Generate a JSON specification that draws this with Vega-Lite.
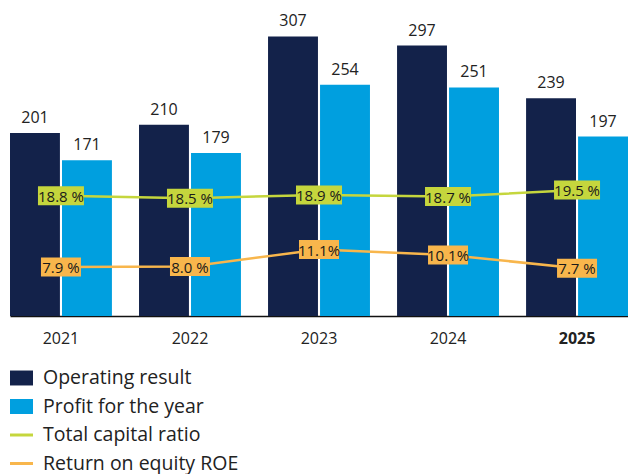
{
  "$schema": "https://vega.github.io/schema/vega-lite/v6.json",
  "width": 618,
  "height": 316,
  "autosize": {"type": "none"},
  "padding": {"left": 10, "top": 0, "right": 0, "bottom": 158},
  "background": "white",
  "config": {
    "view": {"stroke": null},
    "font": "Open Sans",
    "text": {"font": "Open Sans"}
  },
  "datasets": {
    "bars": [
      {"year": "2021", "series": "Operating result", "value": 201},
      {"year": "2021", "series": "Profit for the year", "value": 171},
      {"year": "2022", "series": "Operating result", "value": 210},
      {"year": "2022", "series": "Profit for the year", "value": 179},
      {"year": "2023", "series": "Operating result", "value": 307},
      {"year": "2023", "series": "Profit for the year", "value": 254},
      {"year": "2024", "series": "Operating result", "value": 297},
      {"year": "2024", "series": "Profit for the year", "value": 251},
      {"year": "2025", "series": "Operating result", "value": 239},
      {"year": "2025", "series": "Profit for the year", "value": 197}
    ],
    "ratios": [
      {"year": "2021", "cap": 18.8, "capLabel": "18.8 %", "roe": 7.9, "roeLabel": "7.9 %"},
      {"year": "2022", "cap": 18.5, "capLabel": "18.5 %", "roe": 8.0, "roeLabel": "8.0 %"},
      {"year": "2023", "cap": 18.9, "capLabel": "18.9 %", "roe": 11.1, "roeLabel": "11.1%"},
      {"year": "2024", "cap": 18.7, "capLabel": "18.7 %", "roe": 10.1, "roeLabel": "10.1%"},
      {"year": "2025", "cap": 19.5, "capLabel": "19.5 %", "roe": 7.7, "roeLabel": "7.7 %"}
    ]
  },
  "encoding": {
    "x": {
      "field": "year",
      "type": "nominal",
      "title": null,
      "scale": {"paddingInner": 0.21, "paddingOuter": 0},
      "axis": {
        "orient": "bottom",
        "ticks": false,
        "domainColor": "#111111",
        "domainWidth": 1.5,
        "labelAngle": 0,
        "labelFont": "Open Sans",
        "labelFontSize": 16,
        "labelColor": "#222222",
        "labelPadding": 14,
        "labelFontWeight": {"condition": {"test": "datum.value == '2025'", "value": "bold"}, "value": "normal"}
      }
    }
  },
  "layer": [
    {
      "data": {"name": "bars"},
      "encoding": {
        "xOffset": {
          "field": "series",
          "type": "nominal",
          "scale": {"domain": ["Operating result", "Profit for the year"], "paddingInner": 0.04, "paddingOuter": 0}
        },
        "y": {
          "field": "value",
          "type": "quantitative",
          "scale": {"domain": [0, 347], "nice": false, "zero": true},
          "axis": null
        }
      },
      "layer": [
        {
          "mark": {"type": "bar"},
          "encoding": {
            "color": {
              "field": "series",
              "type": "nominal",
              "scale": {
                "domain": ["Operating result", "Profit for the year", "Total capital ratio", "Return on equity ROE"],
                "range": ["#13224a", "#009fdf", "#c5d63d", "#f8b64c"]
              },
              "legend": {
                "title": null,
                "orient": "none",
                "legendX": 0,
                "legendY": 366.5,
                "direction": "vertical",
                "padding": 0,
                "symbolSize": 529,
                "rowPadding": 7.5,
                "labelOffset": 10,
                "labelFont": "Open Sans",
                "labelFontSize": 19.5,
                "labelColor": "#222222",
                "labelLimit": 400,
                "encode": {
                  "symbols": {
                    "update": {
                      "shape": {"signal": "indexof(['Total capital ratio','Return on equity ROE'], datum.value) >= 0 ? 'M-1,-0.13H1V0.13H-1Z' : 'M-1,-0.65H1V0.65H-1Z'"},
                      "fill": {"signal": "scale('color', datum.value)"},
                      "fillOpacity": {"value": 1},
                      "opacity": {"value": 1},
                      "strokeWidth": {"value": 0}
                    }
                  }
                }
              }
            }
          }
        },
        {
          "mark": {"type": "text", "baseline": "alphabetic", "align": "center", "dy": -10, "fontSize": 16, "color": "#222222", "font": "Open Sans"},
          "encoding": {"text": {"field": "value", "type": "quantitative"}}
        }
      ]
    },
    {
      "data": {"name": "ratios"},
      "encoding": {
        "y": {
          "field": "cap",
          "type": "quantitative",
          "scale": {"domain": [4.3, 42.4], "nice": false, "zero": false},
          "axis": null
        }
      },
      "layer": [
        {
          "mark": {"type": "line", "strokeWidth": 2.5},
          "encoding": {"color": {"datum": "Total capital ratio"}}
        },
        {
          "mark": {"type": "point", "filled": true, "opacity": 1, "size": 400, "shape": "M-2.3,-0.95H2.3V0.95H-2.3Z", "strokeWidth": 0},
          "encoding": {"color": {"datum": "Total capital ratio"}}
        },
        {
          "mark": {"type": "text", "baseline": "middle", "align": "center", "dy": 1, "fontSize": 15, "color": "#1a1a1a", "font": "Open Sans"},
          "encoding": {"text": {"field": "capLabel", "type": "nominal"}}
        }
      ]
    },
    {
      "data": {"name": "ratios"},
      "encoding": {
        "y": {
          "field": "roe",
          "type": "quantitative",
          "scale": {"domain": [-1, 56.5], "nice": false, "zero": false},
          "axis": null
        }
      },
      "layer": [
        {
          "mark": {"type": "line", "strokeWidth": 2.5},
          "encoding": {"color": {"datum": "Return on equity ROE"}}
        },
        {
          "mark": {"type": "point", "filled": true, "opacity": 1, "size": 400, "shape": "M-2,-0.95H2V0.95H-2Z", "strokeWidth": 0},
          "encoding": {"color": {"datum": "Return on equity ROE"}}
        },
        {
          "mark": {"type": "text", "baseline": "middle", "align": "center", "dy": 1, "fontSize": 15, "color": "#1a1a1a", "font": "Open Sans"},
          "encoding": {"text": {"field": "roeLabel", "type": "nominal"}}
        }
      ]
    }
  ],
  "resolve": {"scale": {"y": "independent"}}
}
